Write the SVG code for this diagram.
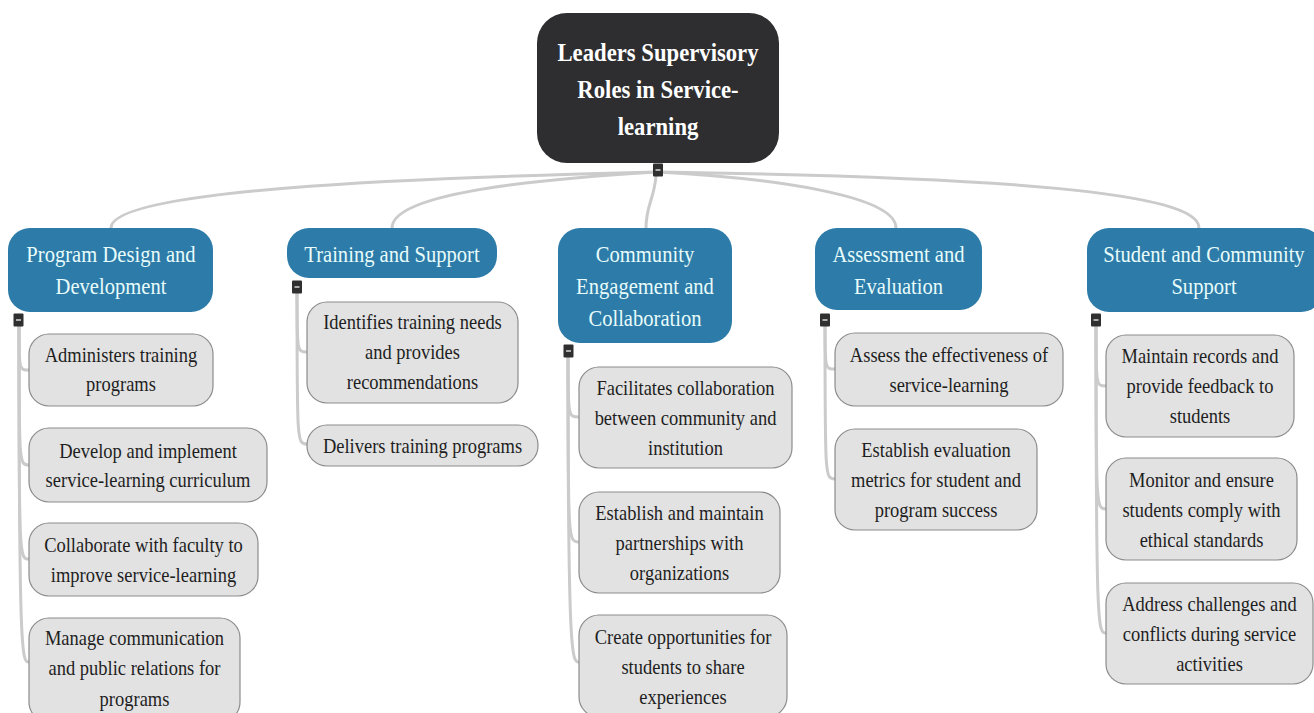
<svg xmlns="http://www.w3.org/2000/svg" width="1314" height="713" viewBox="0 0 1314 713">
  <style>
    .bg { fill: #ffffff; }
    .link { fill: none; stroke: #cbcbcb; stroke-width: 3; stroke-linecap: round; }
    .root rect { fill: #2e2e30; }
    .root text { font-family: "Liberation Serif", "Times New Roman", serif; font-weight: bold; font-size: 22.7px; fill: #ffffff; text-anchor: middle; }
    .cat rect { fill: #2c7ba8; }
    .cat text { font-family: "Liberation Serif", "Times New Roman", serif; font-size: 20.6px; fill: #e8fbfb; text-anchor: middle; }
    .leaf rect { fill: #e2e2e2; stroke: #8c8c8c; stroke-width: 1.2; }
    .leaf text { font-family: "Liberation Serif", "Times New Roman", serif; font-size: 18.5px; fill: #1e1e1e; text-anchor: middle; }
    .tog rect { fill: #2f2f2f; }
    .tog line { stroke: #d8d8d8; stroke-width: 1.5; }
  </style>
  <defs>
    <g id="toggle" class="tog">
      <rect x="-5" y="-6.5" width="10" height="13" rx="1"/>
      <line x1="-2.5" y1="0" x2="2.5" y2="0"/>
    </g>
  </defs>

  <rect class="bg" x="0" y="0" width="1314" height="713"/>

  <!-- connectors -->
  <g id="connectors">
    <path class="link" d="M658,172 C 400,178 111,190 111,228"/>
    <path class="link" d="M658,172 C 520,180 392,195 392,228"/>
    <path class="link" d="M656,176 C 654,200 646,205 646,228"/>
    <path class="link" d="M658,172 C 770,178 896,195 896,228"/>
    <path class="link" d="M658,172 C 1000,177 1199,192 1199,228"/>

    <path class="link" d="M19,326 C 19,370 19,370 29,370"/>
    <path class="link" d="M19,326 C 19,465 19,465 29,465"/>
    <path class="link" d="M19,326 C 19,559 19,559 29,559"/>
    <path class="link" d="M19,326 C 19,662 22,662 29,662"/>

    <path class="link" d="M297,292 C 297,352 297,352 307,352"/>
    <path class="link" d="M297,292 C 297,444 297,444 307,444"/>

    <path class="link" d="M568,356 C 568,417 568,417 579,417"/>
    <path class="link" d="M568,356 C 568,542 568,542 579,542"/>
    <path class="link" d="M568,356 C 568,662 572,662 579,662"/>

    <path class="link" d="M825,325 C 825,369 825,369 835,369"/>
    <path class="link" d="M825,325 C 825,479 825,479 835,479"/>

    <path class="link" d="M1096,325 C 1096,386 1096,386 1106,386"/>
    <path class="link" d="M1096,325 C 1096,509 1096,509 1106,509"/>
    <path class="link" d="M1096,325 C 1096,633 1098,633 1106,633"/>
  </g>

  <!-- root -->
  <g id="root" class="root">
    <rect x="537" y="13" width="242" height="150" rx="30"/>
    <text transform="translate(658 61) scale(1 1.15)">Leaders Supervisory</text>
    <text transform="translate(658 98) scale(1 1.15)">Roles in Service-</text>
    <text transform="translate(658 135) scale(1 1.15)">learning</text>
    <use href="#toggle" x="658" y="170"/>
  </g>

  <!-- Program Design and Development -->
  <g id="cat-program" class="cat">
    <rect x="8" y="228" width="205" height="84" rx="22"/>
    <text transform="translate(111 262) scale(1 1.15)">Program Design and</text>
    <text transform="translate(111 294) scale(1 1.15)">Development</text>
    <use href="#toggle" x="18.5" y="320"/>
  </g>
  <g id="leaf-administers" class="leaf">
    <rect x="29" y="334" width="184" height="72" rx="20"/>
    <text transform="translate(121 362) scale(1 1.15)">Administers training</text>
    <text transform="translate(121 391) scale(1 1.15)">programs</text>
  </g>
  <g id="leaf-curriculum" class="leaf">
    <rect x="29" y="428" width="238" height="74" rx="20"/>
    <text transform="translate(148 458) scale(1 1.15)">Develop and implement</text>
    <text transform="translate(148 487) scale(1 1.15)">service-learning curriculum</text>
  </g>
  <g id="leaf-faculty" class="leaf">
    <rect x="29" y="523" width="229" height="73" rx="20"/>
    <text transform="translate(143.5 552) scale(1 1.15)">Collaborate with faculty to</text>
    <text transform="translate(143.5 582) scale(1 1.15)">improve service-learning</text>
  </g>
  <g id="leaf-communication" class="leaf">
    <rect x="29" y="618" width="211" height="104" rx="20"/>
    <text transform="translate(134.5 645) scale(1 1.15)">Manage communication</text>
    <text transform="translate(134.5 675) scale(1 1.15)">and public relations for</text>
    <text transform="translate(134.5 706) scale(1 1.15)">programs</text>
  </g>

  <!-- Training and Support -->
  <g id="cat-training" class="cat">
    <rect x="287" y="228" width="210" height="50" rx="22"/>
    <text transform="translate(392 262) scale(1 1.15)">Training and Support</text>
    <use href="#toggle" x="297" y="287"/>
  </g>
  <g id="leaf-needs" class="leaf">
    <rect x="307" y="302" width="211" height="101" rx="20"/>
    <text transform="translate(412.5 329) scale(1 1.15)">Identifies training needs</text>
    <text transform="translate(412.5 359) scale(1 1.15)">and provides</text>
    <text transform="translate(412.5 389) scale(1 1.15)">recommendations</text>
  </g>
  <g id="leaf-delivers" class="leaf">
    <rect x="307" y="425" width="231" height="41" rx="20"/>
    <text transform="translate(422.5 453) scale(1 1.15)">Delivers training programs</text>
  </g>

  <!-- Community Engagement and Collaboration -->
  <g id="cat-community" class="cat">
    <rect x="558" y="228" width="174" height="115" rx="22"/>
    <text transform="translate(645 262) scale(1 1.15)">Community</text>
    <text transform="translate(645 294) scale(1 1.15)">Engagement and</text>
    <text transform="translate(645 326) scale(1 1.15)">Collaboration</text>
    <use href="#toggle" x="568.5" y="351"/>
  </g>
  <g id="leaf-facilitates" class="leaf">
    <rect x="579" y="367" width="213" height="101" rx="20"/>
    <text transform="translate(685.5 395) scale(1 1.15)">Facilitates collaboration</text>
    <text transform="translate(685.5 425) scale(1 1.15)">between community and</text>
    <text transform="translate(685.5 455) scale(1 1.15)">institution</text>
  </g>
  <g id="leaf-partnerships" class="leaf">
    <rect x="579" y="492" width="201" height="101" rx="20"/>
    <text transform="translate(679.5 520) scale(1 1.15)">Establish and maintain</text>
    <text transform="translate(679.5 550) scale(1 1.15)">partnerships with</text>
    <text transform="translate(679.5 580) scale(1 1.15)">organizations</text>
  </g>
  <g id="leaf-opportunities" class="leaf">
    <rect x="579" y="615" width="208" height="102" rx="20"/>
    <text transform="translate(683 644) scale(1 1.15)">Create opportunities for</text>
    <text transform="translate(683 674) scale(1 1.15)">students to share</text>
    <text transform="translate(683 704) scale(1 1.15)">experiences</text>
  </g>

  <!-- Assessment and Evaluation -->
  <g id="cat-assessment" class="cat">
    <rect x="815" y="228" width="167" height="82" rx="22"/>
    <text transform="translate(898.5 262) scale(1 1.15)">Assessment and</text>
    <text transform="translate(898.5 294) scale(1 1.15)">Evaluation</text>
    <use href="#toggle" x="825" y="320"/>
  </g>
  <g id="leaf-effectiveness" class="leaf">
    <rect x="835" y="333" width="228" height="73" rx="20"/>
    <text transform="translate(949 362) scale(1 1.15)">Assess the effectiveness of</text>
    <text transform="translate(949 392) scale(1 1.15)">service-learning</text>
  </g>
  <g id="leaf-metrics" class="leaf">
    <rect x="835" y="429" width="202" height="101" rx="20"/>
    <text transform="translate(936 457) scale(1 1.15)">Establish evaluation</text>
    <text transform="translate(936 487) scale(1 1.15)">metrics for student and</text>
    <text transform="translate(936 517) scale(1 1.15)">program success</text>
  </g>

  <!-- Student and Community Support -->
  <g id="cat-student" class="cat">
    <rect x="1087" y="228" width="236" height="84" rx="22"/>
    <text transform="translate(1204 262) scale(1 1.15)">Student and Community</text>
    <text transform="translate(1204 294) scale(1 1.15)">Support</text>
    <use href="#toggle" x="1096" y="320"/>
  </g>
  <g id="leaf-records" class="leaf">
    <rect x="1106" y="335" width="188" height="102" rx="20"/>
    <text transform="translate(1200 363) scale(1 1.15)">Maintain records and</text>
    <text transform="translate(1200 393) scale(1 1.15)">provide feedback to</text>
    <text transform="translate(1200 423) scale(1 1.15)">students</text>
  </g>
  <g id="leaf-ethics" class="leaf">
    <rect x="1106" y="458" width="191" height="102" rx="20"/>
    <text transform="translate(1201.5 487) scale(1 1.15)">Monitor and ensure</text>
    <text transform="translate(1201.5 517) scale(1 1.15)">students comply with</text>
    <text transform="translate(1201.5 547) scale(1 1.15)">ethical standards</text>
  </g>
  <g id="leaf-challenges" class="leaf">
    <rect x="1106" y="583" width="207" height="101" rx="20"/>
    <text transform="translate(1209.5 611) scale(1 1.15)">Address challenges and</text>
    <text transform="translate(1209.5 641) scale(1 1.15)">conflicts during service</text>
    <text transform="translate(1209.5 671) scale(1 1.15)">activities</text>
  </g>
</svg>
